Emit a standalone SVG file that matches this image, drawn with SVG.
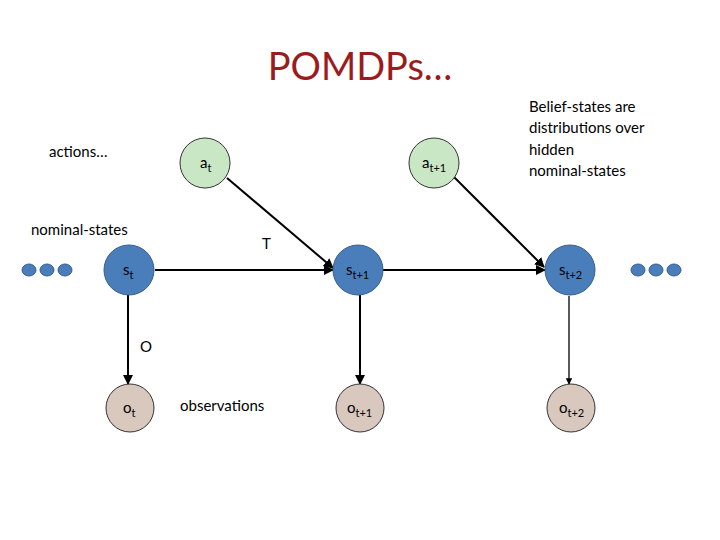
<svg xmlns="http://www.w3.org/2000/svg" width="720" height="540" viewBox="0 0 720 540">
<defs>
<style>
text{font-family:Lato,"Open Sans","Liberation Sans",sans-serif;fill:#000}
.s{fill:#4a7ebb;stroke:#385d8a;stroke-width:1}
.a{fill:#c9e7c5;stroke:#333;stroke-width:1}
.o{fill:#d9c8bd;stroke:#333;stroke-width:1}
.d{fill:#4a7ebb;stroke:#385d8a}
.e{stroke:#000;stroke-width:2;fill:none;marker-end:url(#ah)}
.lbl{font-size:15px}
.n{font-size:15px;text-anchor:middle}
.sub{font-size:11px}
</style>
<marker id="ah" viewBox="0 0 10 10" refX="9" refY="5" markerWidth="5" markerHeight="5" orient="auto"><path d="M0,0L10,5L0,10z" fill="#000"/></marker>
</defs>
<rect width="720" height="540" fill="#fff"/>
<text x="360" y="80" font-size="38" text-anchor="middle" style="fill:#9b1c1c">POMDPs…</text>
<text x="49" y="157" class="lbl">actions…</text>
<text x="31" y="235" class="lbl">nominal-states</text>
<text x="180" y="411" class="lbl">observations</text>
<text x="262" y="249" class="lbl">T</text>
<text x="140" y="352" class="lbl">O</text>
<g class="lbl"><text x="529" y="112">Belief-states are</text><text x="529" y="133">distributions over</text><text x="529" y="155">hidden</text><text x="529" y="176">nominal-states</text></g>
<g id="connectors">
<line class="e" x1="227" y1="178" x2="333" y2="268"/>
<line class="e" x1="453" y1="176" x2="544" y2="267"/>
<line class="e" x1="155" y1="270" x2="333" y2="270"/>
<line class="e" x1="383" y1="270" x2="545" y2="270"/>
<line class="e" x1="128" y1="295" x2="128" y2="384"/>
<line class="e" x1="360" y1="295" x2="360" y2="384"/>
<line class="e" x1="569" y1="296" x2="569" y2="384" style="stroke-width:1.3"/>
</g>
<g id="dotsL"><ellipse class="d" cx="29" cy="270" rx="7" ry="6"/><ellipse class="d" cx="47" cy="270" rx="7" ry="6"/><ellipse class="d" cx="65" cy="270" rx="7" ry="6"/></g>
<g id="dotsR"><ellipse class="d" cx="638" cy="270" rx="7" ry="6"/><ellipse class="d" cx="656" cy="270" rx="7" ry="6"/><ellipse class="d" cx="674" cy="270" rx="7" ry="6"/></g>
<g id="at"><circle class="a" cx="205" cy="163" r="25"/><text x="200" y="168" class="lbl">a<tspan class="sub" dy="4">t</tspan></text></g>
<g id="at1"><circle class="a" cx="434" cy="163" r="25"/><text x="422" y="168" class="lbl">a<tspan class="sub" dy="4">t+1</tspan></text></g>
<g id="st"><circle class="s" cx="129" cy="270" r="25"/><text x="123" y="275" class="lbl">s<tspan class="sub" dy="4">t</tspan></text></g>
<g id="st1"><circle class="s" cx="358" cy="270" r="25"/><text x="346" y="275" class="lbl">s<tspan class="sub" dy="4">t+1</tspan></text></g>
<g id="st2"><circle class="s" cx="570" cy="270" r="25"/><text x="559" y="275" class="lbl">s<tspan class="sub" dy="4">t+2</tspan></text></g>
<g id="ot"><circle class="o" cx="130" cy="408" r="24"/><text x="123" y="413" class="lbl">o<tspan class="sub" dy="4">t</tspan></text></g>
<g id="ot1"><circle class="o" cx="360" cy="408" r="24"/><text x="347" y="413" class="lbl">o<tspan class="sub" dy="4">t+1</tspan></text></g>
<g id="ot2"><circle class="o" cx="571" cy="408" r="24"/><text x="559" y="413" class="lbl">o<tspan class="sub" dy="4">t+2</tspan></text></g>
</svg>
